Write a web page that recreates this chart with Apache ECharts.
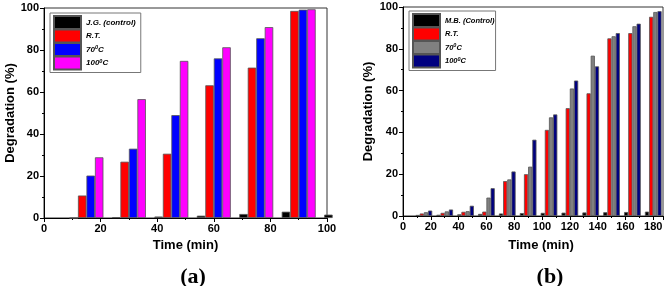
<!DOCTYPE html>
<html>
<head>
<meta charset="utf-8">
<script src="https://cdn.jsdelivr.net/npm/echarts@6/dist/echarts.min.js"></script>
<style>
html, body { margin: 0; padding: 0; background: #fff; }
#chart { width: 669px; height: 286px; }
</style>
</head>
<body>
<div id="chart"></div>
<script>
// panel (a)
const timeA = [15, 30, 45, 60, 75, 90, 105];
const jgControl = [0, 0.4, 0.7, 1.1, 1.9, 3.0, 1.6];
const rtA = [10.7, 26.8, 30.6, 63.2, 71.6, 98.6];
const t70A = [20.2, 33.0, 49.0, 76.0, 85.6, 99.2];
const t100A = [28.9, 56.6, 74.8, 81.3, 90.9, 99.4];

// panel (b)
const timeB = [15, 30, 45, 60, 75, 90, 105, 120, 135, 150, 165, 180];
const mbControl = [0.5, 0.6, 0.8, 1.0, 1.2, 1.4, 1.5, 1.6, 1.7, 1.8, 1.9, 2.1];
const rtB = [1.2, 1.5, 2.0, 2.1, 16.7, 20.0, 41.2, 51.6, 58.7, 85.0, 87.5, 95.3];
const t70B = [1.8, 2.2, 2.3, 8.8, 17.5, 23.6, 47.2, 61.0, 76.7, 86.0, 90.8, 97.6];
const t100B = [2.6, 3.1, 4.9, 13.3, 21.3, 36.5, 48.6, 64.8, 71.6, 87.5, 92.0, 98.0];

const yTicks = [0, 20, 40, 60, 80, 100];

const font = 'Liberation Sans, Arial, sans-serif';

const chart = echarts.init(document.getElementById('chart'));

function bars(name, vals, times, color, idx) {
  return {
    name: name,
    type: 'bar',
    xAxisIndex: idx,
    yAxisIndex: idx,
    barGap: 0,
    barCategoryGap: '20%',
    clip: true,
    data: vals.map((v, i) => [times[i], v]),
    itemStyle: { color: color, borderColor: '#555', borderWidth: 0.8 },
  };
}

function xAxis(idx, max, gap, pad) {
  return {
    type: 'value',
    gridIndex: idx,
    min: 0,
    max: max,
    interval: 20,
    name: 'Time (min)',
    nameLocation: 'middle',
    nameGap: gap,
    nameTextStyle: { fontFamily: font, fontWeight: 'bold', fontSize: 13, color: '#000', padding: pad },
    axisLine: { lineStyle: { color: '#000', width: 1 } },
    axisTick: { show: true, length: 4, lineStyle: { color: '#000' } },
    minorTick: { show: true, splitNumber: 2, length: 2, lineStyle: { color: '#000' } },
    splitLine: { show: false },
    axisLabel: {
      fontFamily: font, fontWeight: 'bold', fontSize: 11, color: '#000', margin: 5,
      showMaxLabel: max % 20 === 0,
    },
  };
}

function yAxis(idx, gap) {
  return {
    type: 'value',
    gridIndex: idx,
    min: yTicks[0],
    max: yTicks[yTicks.length - 1],
    interval: 20,
    name: 'Degradation (%)',
    nameLocation: 'middle',
    nameGap: gap,
    nameTextStyle: { fontFamily: font, fontWeight: 'bold', fontSize: 13, color: '#000' },
    axisLine: { show: true, lineStyle: { color: '#000', width: 1 } },
    axisTick: { show: true, length: 4, lineStyle: { color: '#000' } },
    minorTick: { show: true, splitNumber: 2, length: 2, lineStyle: { color: '#000' } },
    splitLine: { show: false },
    axisLabel: { fontFamily: font, fontWeight: 'bold', fontSize: 11, color: '#000', margin: 5 },
  };
}

const legendNames = {
  '70C': '70{s|0}C', '100C': '100{s|0}C',
  '70C ': '70{s|0}C', '100C ': '100{s|0}C',
};

function legend(names, left, top, size, padRight) {
  return {
    data: names,
    orient: 'vertical',
    left: left,
    top: top,
    icon: 'rect',
    itemWidth: 27,
    itemHeight: 13,
    itemGap: -1.5,
    padding: [2, padRight, 2, 3],
    borderColor: '#777',
    borderWidth: 1,
    backgroundColor: '#fff',
    selectedMode: false,
    formatter: (n) => legendNames[n] || n.trim(),
    textStyle: {
      fontFamily: font, fontSize: size, fontWeight: 'bold', fontStyle: 'italic', color: '#000',
      lineHeight: 10,
      rich: {
        s: { fontFamily: font, fontSize: 5.5, fontWeight: 'bold', fontStyle: 'italic', color: '#000',
          lineHeight: 6, verticalAlign: 'top' },
      },
    },
  };
}

chart.setOption({
  animation: false,
  title: [
    { text: '(a)', left: 188, top: 261, textAlign: 'center',
      textStyle: { fontFamily: 'Liberation Serif, Times New Roman, serif', fontWeight: 'bold', fontSize: 22, color: '#000' } },
    { text: '(b)', left: 545, top: 261, textAlign: 'center',
      textStyle: { fontFamily: 'Liberation Serif, Times New Roman, serif', fontWeight: 'bold', fontSize: 22, color: '#000' } },
  ],
  legend: [
    legend(['J.G. (control)', 'R.T.', '70C', '100C'], 50, 13, 8, 5),
    legend(['M.B. (Control)', 'R.T. ', '70C ', '100C '], 409, 11, 7.5, 1),
  ],
  grid: [
    { left: 44, right: 342, top: 8, bottom: 68, show: true, borderColor: '#333', borderWidth: 1 },
    { left: 403, right: 6, top: 7, bottom: 70, show: true, borderColor: '#333', borderWidth: 1 },
  ],
  xAxis: [xAxis(0, 100, 14, [0, 0, 0, 0]), xAxis(1, 187, 23, [0, 0, 0, 16])],
  yAxis: [yAxis(0, 27), yAxis(1, 28)],
  series: [
    bars('J.G. (control)', jgControl, timeA, '#000000', 0),
    bars('R.T.', rtA, timeA, '#ff0000', 0),
    bars('70C', t70A, timeA, '#0000ff', 0),
    bars('100C', t100A, timeA, '#ff00ff', 0),
    bars('M.B. (Control)', mbControl, timeB, '#000000', 1),
    bars('R.T. ', rtB, timeB, '#ff0000', 1),
    bars('70C ', t70B, timeB, '#808080', 1),
    bars('100C ', t100B, timeB, '#000080', 1),
  ],
});
</script>
</body>
</html>
